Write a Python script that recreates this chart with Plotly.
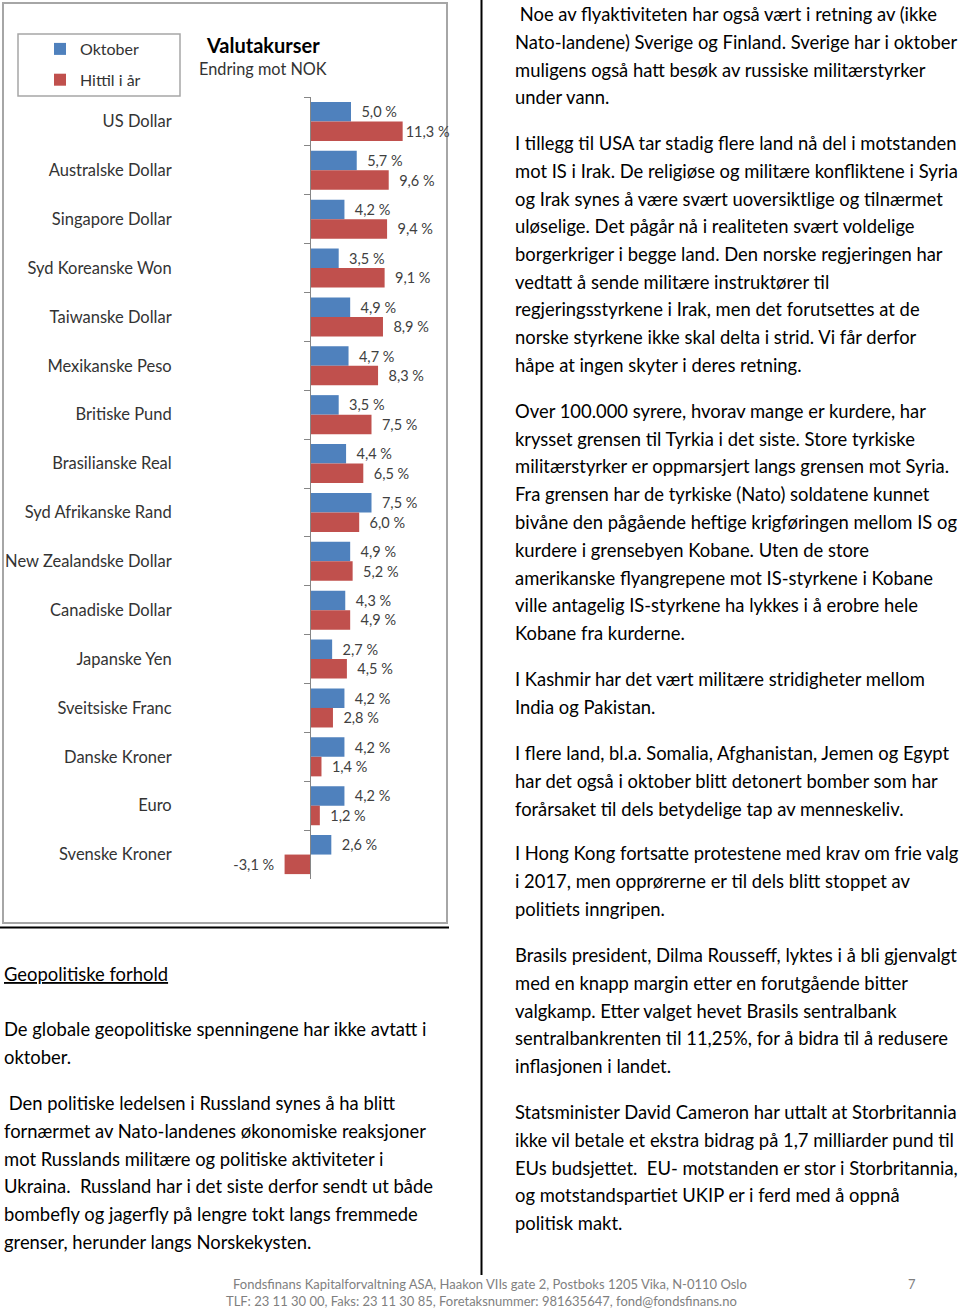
import plotly.graph_objects as go

# ---------------- data ----------------
categories = ["US Dollar", "Australske Dollar", "Singapore Dollar", "Syd Koreanske Won",
              "Taiwanske Dollar", "Mexikanske Peso", "Britiske Pund", "Brasilianske Real",
              "Syd Afrikanske Rand", "New Zealandske Dollar", "Canadiske Dollar", "Japanske Yen",
              "Sveitsiske Franc", "Danske Kroner", "Euro", "Svenske Kroner"]
oktober = [5.0, 5.7, 4.2, 3.5, 4.9, 4.7, 3.5, 4.4, 7.5, 4.9, 4.3, 2.7, 4.2, 4.2, 4.2, 2.6]
hittil_i_aar = [11.3, 9.6, 9.4, 9.1, 8.9, 8.3, 7.5, 6.5, 6.0, 5.2, 4.9, 4.5, 2.8, 1.4, 1.2, -3.1]
series_names = ["Oktober", "Hittil i år"]

chart_title = "Valutakurser"
chart_subtitle = "Endring mot NOK"

right_paragraphs = [
    [" Noe av flyaktiviteten har også vært i retning av (ikke",
     "Nato-landene) Sverige og Finland. Sverige har i oktober",
     "muligens også hatt besøk av russiske militærstyrker",
     "under vann."],
    ["I tillegg til USA tar stadig flere land nå del i motstanden",
     "mot IS i Irak. De religiøse og militære konfliktene i Syria",
     "og Irak synes å være svært uoversiktlige og tilnærmet",
     "uløselige. Det pågår nå i realiteten svært voldelige",
     "borgerkriger i begge land. Den norske regjeringen har",
     "vedtatt å sende militære instruktører til",
     "regjeringsstyrkene i Irak, men det forutsettes at de",
     "norske styrkene ikke skal delta i strid. Vi får derfor",
     "håpe at ingen skyter i deres retning."],
    ["Over 100.000 syrere, hvorav mange er kurdere, har",
     "krysset grensen til Tyrkia i det siste. Store tyrkiske",
     "militærstyrker er oppmarsjert langs grensen mot Syria.",
     "Fra grensen har de tyrkiske (Nato) soldatene kunnet",
     "bivåne den pågående heftige krigføringen mellom IS og",
     "kurdere i grensebyen Kobane. Uten de store",
     "amerikanske flyangrepene mot IS-styrkene i Kobane",
     "ville antagelig IS-styrkene ha lykkes i å erobre hele",
     "Kobane fra kurderne."],
    ["I Kashmir har det vært militære stridigheter mellom",
     "India og Pakistan."],
    ["I flere land, bl.a. Somalia, Afghanistan, Jemen og Egypt",
     "har det også i oktober blitt detonert bomber som har",
     "forårsaket til dels betydelige tap av menneskeliv."],
    ["I Hong Kong fortsatte protestene med krav om frie valg",
     "i 2017, men opprørerne er til dels blitt stoppet av",
     "politiets inngripen."],
    ["Brasils president, Dilma Rousseff, lyktes i å bli gjenvalgt",
     "med en knapp margin etter en forutgående bitter",
     "valgkamp. Etter valget hevet Brasils sentralbank",
     "sentralbankrenten til 11,25%, for å bidra til å redusere",
     "inflasjonen i landet."],
    ["Statsminister David Cameron har uttalt at Storbritannia",
     "ikke vil betale et ekstra bidrag på 1,7 milliarder pund til",
     "EUs budsjettet.  EU- motstanden er stor i Storbritannia,",
     "og motstandspartiet UKIP er i ferd med å oppnå",
     "politisk makt."],
]
right_par_starts = [14, 143, 411, 679, 753, 853, 955, 1112]

left_heading = "Geopolitiske forhold"
left_paragraphs = [
    ["De globale geopolitiske spenningene har ikke avtatt i",
     "oktober."],
    [" Den politiske ledelsen i Russland synes å ha blitt",
     "fornærmet av Nato-landenes økonomiske reaksjoner",
     "mot Russlands militære og politiske aktiviteter i",
     "Ukraina.  Russland har i det siste derfor sendt ut både",
     "bombefly og jagerfly på lengre tokt langs fremmede",
     "grenser, herunder langs Norskekysten."],
]
left_par_starts = [1029, 1103]

footer_lines = ["Fondsfinans Kapitalforvaltning ASA, Haakon VIIs gate 2, Postboks 1205 Vika, N-0110 Oslo",
                "TLF: 23 11 30 00, Faks: 23 11 30 85, Foretaksnummer: 981635647, fond@fondsfinans.no"]
page_number = "7"

# ---------------- layout helpers ----------------
W, H = 960, 1309
FONT = "Lato"
BLUE = "#4F81BD"
RED = "#C0504D"
LINE_H = 27.75
BODY = 18.4


def px(x):
    return x / W


def py(y):
    return 1 - y / H


def fmt(v):
    return f"{v:.1f}".replace(".", ",") + "\u00a0%"


def label(v):
    s = fmt(v)
    if v < 0:
        return s + "\u00a0\u00a0"
    if v >= 10:
        return s
    return "\u00a0\u00a0" + s


def keep_spaces(t):
    t = t.replace("  ", "\u00a0 ")
    if t.startswith(" "):
        t = "\u00a0" + t[1:]
    return t


fig = go.Figure()
for name, vals, col in [(series_names[0], oktober, BLUE), (series_names[1], hittil_i_aar, RED)]:
    fig.add_trace(go.Bar(
        y=categories, x=vals, orientation="h", name=name,
        marker=dict(color=col, line=dict(width=0)),
        text=[label(v) for v in vals], textposition="outside",
        textfont=dict(family=FONT, size=14.5, color="#404040"),
        constraintext="none", cliponaxis=False,
        legendgroup=name, hoverinfo="skip",
    ))

x0_px, x1_px = 228, 433
zero_px = 310
y_top, y_bot = 97, 879

annotations = []
annotations.append(dict(x=px(263), y=py(45), xref="paper", yref="paper", text="<b>" + chart_title + "</b>",
                        showarrow=False, font=dict(family=FONT, size=20, color="#000"),
                        xanchor="center", yanchor="middle"))
annotations.append(dict(x=px(263), y=py(68), xref="paper", yref="paper", text=chart_subtitle,
                        showarrow=False, font=dict(family=FONT, size=16.3, color="#333"),
                        xanchor="center", yanchor="middle"))


def add_lines(lines, x, y0, size=BODY, color="#000"):
    for i, t in enumerate(lines):
        annotations.append(dict(x=px(x), y=py(y0 + i * LINE_H), xref="paper", yref="paper",
                                text=keep_spaces(t),
                                showarrow=False, font=dict(family=FONT, size=size, color=color),
                                xanchor="left", yanchor="middle"))


for par, y0 in zip(right_paragraphs, right_par_starts):
    add_lines(par, 513, y0)

annotations.append(dict(x=px(2), y=py(974), xref="paper", yref="paper", text="<u>" + left_heading + "</u>",
                        showarrow=False, font=dict(family=FONT, size=BODY, color="#000"),
                        xanchor="left", yanchor="middle"))
for par, y0 in zip(left_paragraphs, left_par_starts):
    add_lines(par, 2, y0)

annotations.append(dict(x=px(490), y=py(1284), xref="paper", yref="paper", text=footer_lines[0],
                        showarrow=False, font=dict(family=FONT, size=13, color="#7F7F7F"),
                        xanchor="center", yanchor="middle"))
annotations.append(dict(x=px(481), y=py(1301), xref="paper", yref="paper", text=footer_lines[1],
                        showarrow=False, font=dict(family=FONT, size=13, color="#7F7F7F"),
                        xanchor="center", yanchor="middle"))
annotations.append(dict(x=px(912), y=py(1284), xref="paper", yref="paper", text=page_number,
                        showarrow=False, font=dict(family=FONT, size=13, color="#7F7F7F"),
                        xanchor="center", yanchor="middle"))

shapes = [
    dict(type="rect", xref="paper", yref="paper", x0=px(3), x1=px(447), y0=py(3), y1=py(923),
         line=dict(color="#A6A6A6", width=2), layer="below"),
    dict(type="rect", xref="paper", yref="paper", x0=px(18), x1=px(180), y0=py(34), y1=py(96),
         line=dict(color="#A6A6A6", width=1.5), layer="below"),
    dict(type="line", xref="paper", yref="paper", x0=px(0), x1=px(449), y0=py(927.5), y1=py(927.5),
         line=dict(color="#000", width=2)),
    dict(type="line", xref="paper", yref="paper", x0=px(481.5), x1=px(481.5), y0=py(0), y1=py(1275),
         line=dict(color="#000", width=2)),
]

fig.update_layout(
    width=W, height=H,
    margin=dict(l=0, r=0, t=0, b=0),
    paper_bgcolor="white", plot_bgcolor="rgba(0,0,0,0)",
    barmode="group", bargap=0.2, bargroupgap=0,
    font=dict(family=FONT, color="#333"),
    showlegend=True,
    legend=dict(x=px(40), y=py(32), xanchor="left", yanchor="top",
                bgcolor="rgba(0,0,0,0)", borderwidth=0, tracegroupgap=7,
                font=dict(family=FONT, size=16, color="#333"), traceorder="grouped"),
    xaxis=dict(domain=[px(x0_px), px(x1_px)], range=[-10, 15], visible=False, fixedrange=True),
    yaxis=dict(domain=[py(y_bot), py(y_top)], type="category",
               categoryorder="array", categoryarray=categories,
               autorange="reversed",
               anchor="free", position=px(zero_px),
               showline=True, linecolor="#868686", linewidth=1,
               ticks="outside", tickson="boundaries", ticklen=6, tickcolor="#868686",
               ticklabelstandoff=135,
               tickfont=dict(family=FONT, size=16.5, color="#333"),
               showgrid=False, zeroline=False, automargin=False),
    annotations=annotations,
    shapes=shapes,
)

fig.write_html("out.html", config={"displayModeBar": False},
               post_script="document.body.style.margin='0';")
